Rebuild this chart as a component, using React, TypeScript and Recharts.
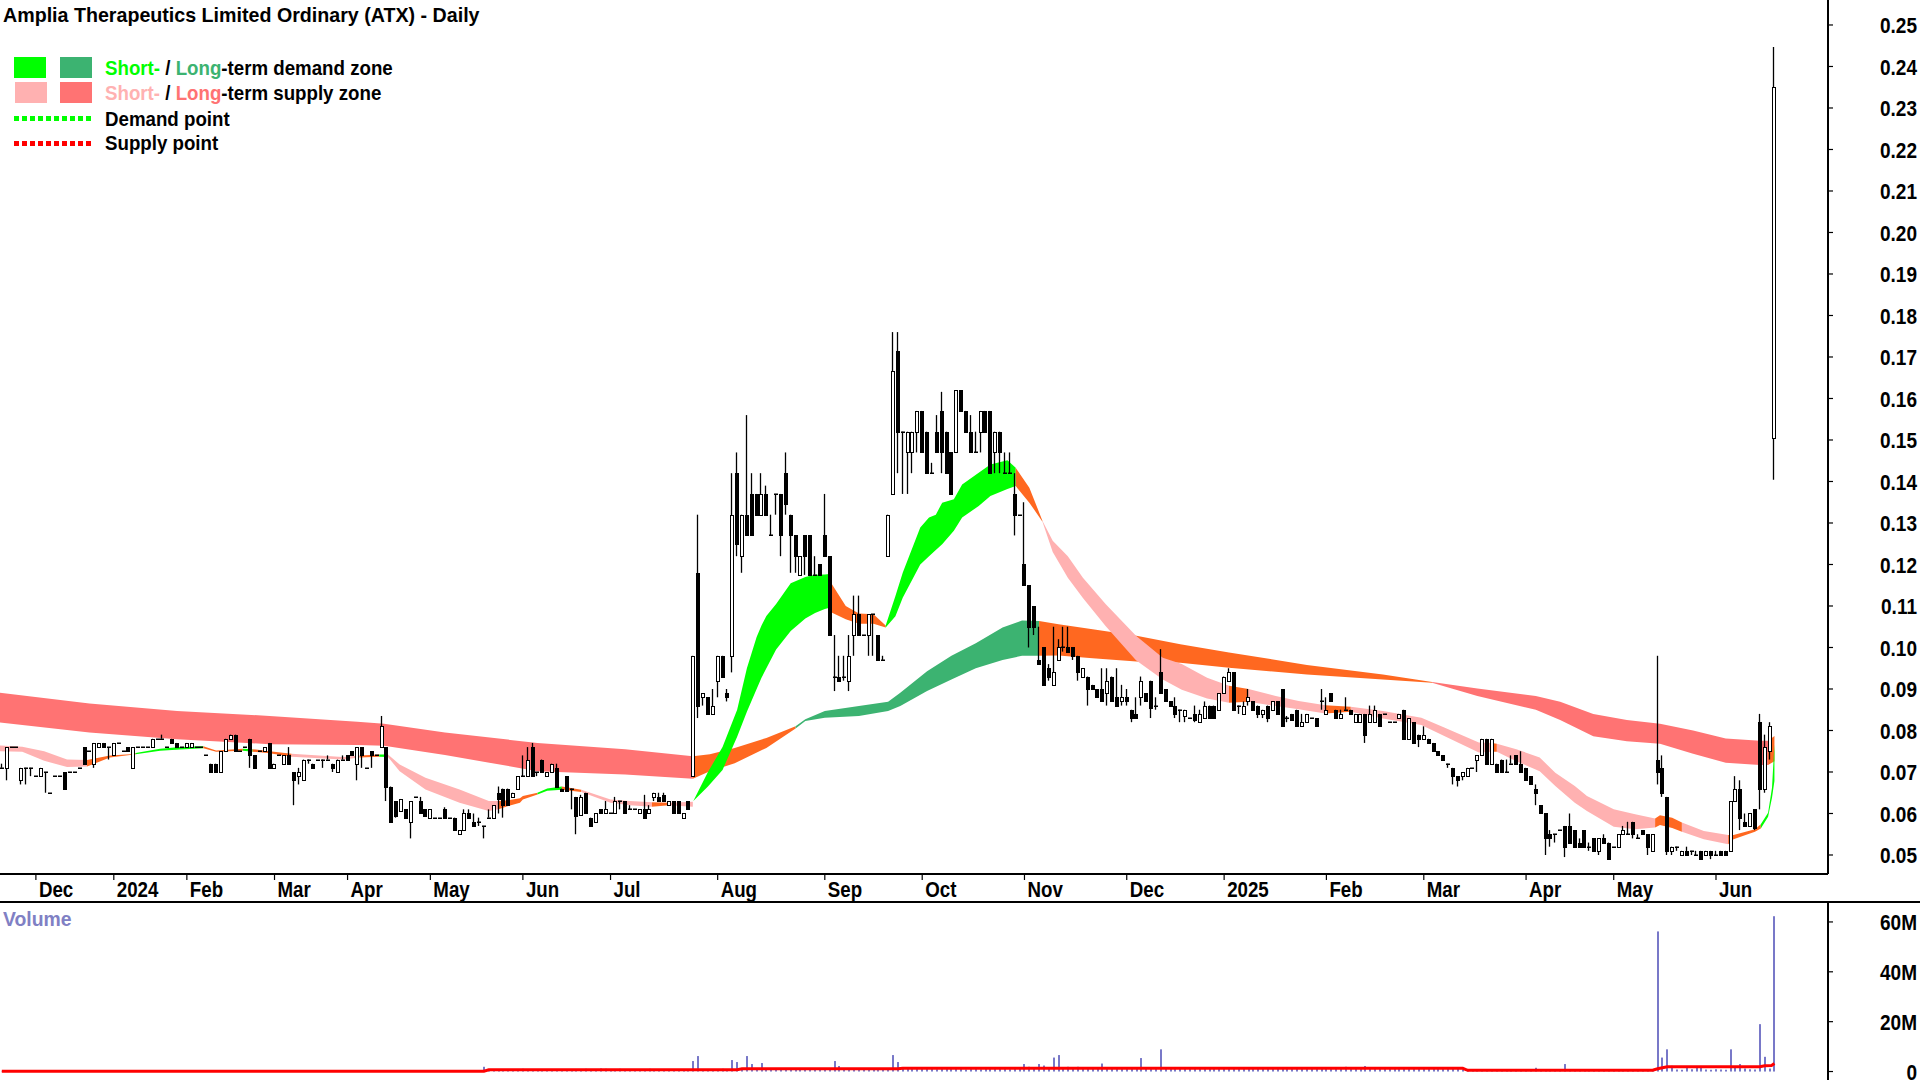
import { Area, Bar, ComposedChart, Line, XAxis, YAxis } from "recharts";

// all prices are in tenths of a cent
const opens = [
  71,71,76,76,68,71,71,69,69,70, 65,69,69,70,70,70,71,76,75,72,
  76,77,76,74,77,75,76,71,76,76, 76,76,78,78,76,78,77,76,76,76,
  76,76,74,72,72,70,75,78,79,75, 76,78,74,75,75,77,71,74,72,74,
  70,69,68,73,72,73,73,73,72,70, 73,74,75,72,76,71,75,74,76,76,
  66.5,63,60.5,61,58,64,63,61,59,59, 59,61,59,59,55,56,60,58,58,57,
  59,59,65,66,66,64,66,69,69,76, 70,73,69,70,71,66,69,66,64,59.7,
  65,59,58,61,60,60,60,63,63,61, 61,60,61,60,64,64,64.5,62,63,63,
  59,63,69,118,88,88,84,92,98,89, 98,142,122,132,137,137,132,137,127,137,
  137,142,132,127,117.5,127,127,117.5,120,127, 122,93,93,93,92,103,108,103,103,108,
  103,97,122,137,171.5,152,147,147,152,157, 152,142,152,157,152,147,147,162,157,152,
  147,152,157,157,147,152,142,142,137,132, 120,115,110,97,100,95,91,97,100,100,
  100,98,93,93,91,90,90,89,93,88, 87,88,85,84,88,89,92,86,94,90,
  87,86,85,83.5,83,84,82,83,86,86, 85,89,92,94,86,84,87,87,86,84,
  86,85,87,90,83,84,85,81,82,83, 83,87,84,89,85,83,85,85,82,82,
  84,82,82,84,84,82,82,83,85,78, 82,79,78,78,77,75,74,72,71,69,
  69,69,71,73,74,78,72,72,73,70, 72,74,72,71,69,66,62,60,55,55,
  56,57,57,56,53,56,52,54,51,54, 53,52,52,55,55,58,54,56,55,51,
  73,71,64,51,52,50,51,51,50,51, 50,51,50,51,51,51,63,66,58,57,
  61,82,66,75,150.4,
];
const highs = [
  72,76,76,76,71,71,71,69,71,70, 65,69,69,70,70,70,71,76,75,77,
  77,77,76,77,77,75,76,76,76,76, 76,78,78,79,76,78,77,76,77,77,
  76,76,74,72,72,75,78,79,79,75, 76,78,74,75,76,77,72,74,74,76,
  70,71,73,73,72,73,73,74,72,73, 74,74,75,76,76,71,75,74,83.5,76,
  66.5,63,63.5,61,63,64,64,61,61,59, 59,61.5,59,59,56,61,61,60,59,57,
  61,62,66.5,66,66,65,69,74,76,77, 70,73,70,72,72,66,69,66,64,64.5,
  65,59,60,61,63,60,64,63,63,62, 61,61,64.5,62,65,65,65,63,63,63,
  60,63,98,132,89,88,90,98,98,90, 142,147,132,156,142,137,142,139,132,137,
  137,147,132,127,122,127,127,122,120,137, 122,103,98,98,103,112.5,112.5,103,108,108,
  103,98,132,176,176,152,152,152,157,157, 152,144.5,156,161.6,152,147,162,162,157,156,
  152,157,157,157,152,152,147,147,142,132, 135,115,110,105,100,96,105,102,105,105,
  100,98,95,93,91,90,95,95,93,95, 91,90,85,88,93,89,92,88,99.6,90,
  87,88,85,85,83,86,85,87,86,86, 89,93,95,94,86,87,90,87,86,85,
  86,87,87,90,83.5,84,85,84,84,83, 83,90,88,89,85,85,88,85,84,84,
  84,86,86,84,84,82,82,84,85,83, 82,79,81,78,77,75,74,72,71,69,
  70,71,71,74,78,78,78,72,73,73, 74,74,75,71,69,67,62,60,56,55,
  56,57,60,56,54,56,53,54,54,55, 53,52,55,57,58,58,55,56,55,55,
  98,74,64,52,52,51,52,51,51,51, 51,51,51,51,51,63,69,68,60,60,
  61,84,79,82,244.7,
];
const lows = [
  71,68,76,76,67,67,69,69,69,65, 65,69,69,66,70,70,71,72,75,71,
  76,76,73,74,77,75,75,71,76,76, 76,76,78,78,76,77,76,76,76,76,
  76,76,74,70,70,70,75,78,75,75, 76,71,71,75,75,71,71,74,72,72,
  62,67,68,72,71,73,71,73,70,70, 73,73,74,68,71,71,71,74,76,63,
  58,59,60.5,59,54,64,60,59.5,59,59, 59,59,59,56,55,56,59,57,57,54,
  59,59,60,59,62,64,66,69,69,69, 69,70,69,70,66.5,65.5,65.5,61,55,59.7,
  60,57,58,60,60,60,60,61,60,61, 61,60,59,60,63,63,63,62,60,60,
  59,61,69,83,86,84,84,88,93,87, 94,122,118,127,127,132,132,132,127,132,
  122,132,118,118,117.5,117.5,117.5,117.5,117.5,122, 103,89.5,92,92,89.5,98,103,103,98,98,
  97,97,122,137,142,137,137,142,147,147, 142,142,147,142,142,137,147,157,152,147,
  147,147,152,142,142,142,142,142,127,132, 115,100,103,96,91,92,91,97,99,99,
  97,92,93,86,90,88,87,86,87,86, 86,86,82,83,86,87,83,85,89,87,
  86,83,82,82,83,82,82,83,83,83, 85,89,92,85,84,84,86,85,83,83,
  82,85,84,81,82,82.5,81,81,82,83, 81,85,84,87,83,83,85,84,82,82,
  77,82,82,81,84,82,82,83,78,78, 77,76,78,77,75,74,73,71,67,66.5,
  68,69,71,70,74,72,72,70,70,70, 72,72,70,68,67,62,60,50,52,53,
  56,49.5,53,52,52,52,51,51,50,53, 49,52,52,55,55,54,54,55,50,51,
  67,64,50,50,51,50,50,50,50,49, 50,49,50,50,50,51,63,56,57,57,
  56,61,65,73,140.4,
];
const closes = [
  71,76,76,76,71,71,71,69,71,70, 65,69,69,66,70,70,71,72,75,77,
  77,76,76,77,77,75,75,76,76,76, 76,78,78,78,76,77,76,76,77,77,
  76,76,74,70,70,75,78,79,75,75, 76,74,71,75,76,71,72,74,74,72,
  68,70,73,73,71,73,73,73,71,73, 73,73,74,76,74,71,74,74,81,66.5,
  58,59.5,63.5,59,63,64,60,59.5,61,59, 59,59,59,56,56,60,59,57,58,57,
  59,62,63.5,62,62,65,69,69,73,69, 70,70,70,72,66.5,65.5,65.5,66,59.5,64,
  60,57,60,60,61,60,63,63,60,61, 61,61,59,61,65,63,63,63,60,60,
  60,61,98,86,89,84,86,98,93,88, 132,125,132,127,127,132,137,132,127,137,
  127,134.5,127,122,122,122,117.5,117.5,117.5,122, 103,93,92,93,98,108,103,103,108,108,
  97,97,132,166.6,152,152,152,152,157,147, 142,142,147,147,142,137,162,157,152,147,
  147,157,152,142,152,147,142,142,132,132, 115,105,105,96,91,93,94,100,100,99,
  98,94,95,90,90,88,87,92,87,86, 88,87,83,83,92,87,85.5,86,89,87,
  86,84,85,85,83,82.5,84,86,83,83, 89,93,94,85,86,86,88,85,84,85,
  83,87,84,81,83,82.5,81,82,84,83, 81,87,85,87,83,84,85,84,84,84,
  79,84,85,81,84,82,82,84,78,83, 77,78,79,77,75,74,73,72,69,68,
  70,71,71,74,78,72,78,70,70,70, 72,72,70,68,67,65,60,54,54,55,
  56,52,53,52,52,52,52,51,54,53, 49,52,55,56,55,55,54,55,52,55,
  70,65,51,52,52,51,50,51,50,49, 51,50,50,50,50,63,66,59,57,60,
  56.5,66,76,81,235,
];
// millions of shares
const volumes = [
  .1,.1,.1,.1,.1,.1,.3,.1,.1,.1, .1,.1,.1,.1,.1,.1,.1,.1,.1,.1,
  .1,.1,.1,.1,.1,.1,.1,.1,.1,.1, .1,.3,.1,.1,.1,.1,.1,.1,.1,.1,
  .1,.1,.1,.1,.1,.1,.1,.1,.1,.1, .1,.3,.1,.1,.1,.1,.1,.1,.1,.3,
  .1,.1,.1,.1,.1,.1,.1,.1,.1,.1, .3,.1,.1,.3,.1,.1,.1,.1,.4,.5,
  .4,.1,.1,.3,.1,.3,.1,.1,.3,.1, .1,.3,.1,.3,.1,.6,.3,.5,.6,1.9,
  1,.8,1,1,.9,1,.9,1.1,.8,1, .9,.8,.9,.8,1,.8,.9,1,1,.8,
  1.1,1,.9,1.2,1.1,.9,1,1.1,1,.8, .8,1,.9,1.1,1,.9,.8,1,1,.9,
  .8,1,4.2,6.2,1,.9,1,1,1.1,.9, 4.6,3.8,1.2,6.2,3,1.1,3.4,1.2,1.4,1.1,
  1.3,1,1.4,1.2,1,1.1,1.3,1.2,1.3,1, 1.1,4.2,2.2,1.3,1.1,1,1.2,.9,1.1,1.2,
  1,.9,1.1,6.6,3.8,1.8,1.4,1.2,1,1.2, 1.1,1.2,.9,1,1.3,1.1,1,1.1,.8,1,
  1.2,.9,1,1.3,1.1,1,1.2,.9,1,1.4, 3,1.9,1.1,3,2.4,1.3,5.6,6.6,1.3,1.9,
  1.2,1.9,1.1,1.5,1,1,3.2,1.3,1.2,1.3, 1.1,1.2,1,1.5,5.4,1.1,1,1.2,8.9,1.2,
  1,1.1,1.3,1,1.2,1.1,1,1.3,1.1,1, 1.2,1,1.1,1.5,1.1,1,1.3,1,1.1,1.2,
  1,1.3,1.1,1,1.2,1.1,1,1.2,1,1.1, 1.3,1,1.2,1,1.1,1.3,1.9,1.3,1.1,1,
  2.2,1.2,1.1,1,1.2,1.1,1,1.1,1.5,1.2, 1.1,1,1.3,1.2,1,1.2,1.1,1.3,1,1,
  .7,.6,.3,.4,.5,.6,.5,.8,.7,.6, .5,.4,.6,.3,.7,1.5,.8,.6,.7,.5,
  .5,3,.7,.6,.5,.7,.3,.5,.6,.7, .5,.4,.6,.3,.5,.7,.6,.5,.7,.8,
  56.2,5.6,8.9,2.3,.8,.7,1.9,.9,1.9,1.9, .8,.7,.9,.8,.7,8.9,1.9,3,1.2,.9,
  .8,19,5.9,1.2,62.3,
];

// volume moving average, stepped
const avgIndex = [0, 99, 100, 151, 152, 184, 185, 300, 301, 339, 340, 342, 361, 362, 363.4, 364];
const avgValue = [.1, .1, .7, .7, 1.1, 1.1, 1.3, 1.3, .5, .5, 1.1, 1.9, 1.9, 2.3, 2.4, 3.2];

const longIndex = [-0.37, 18, 36, 55, 73, 78.5, 91, 110, 128, 141.9, 145.4, 150.5, 157, 163, 165, 169, 176, 182, 184.5, 190, 195, 200, 205.5, 209.5, 213, 217, 224, 233, 242, 252, 268, 283.6, 293.7, 303, 315, 320, 326.8, 333.7, 340.5, 347.3, 354, 361, 362.7, 364];
const longUpper = [89.1, 86.5, 84.7, 83.5, 82.1, 81.6, 79.5, 77, 75.5, 73.8, 74.3, 75.8, 78.2, 81, 82.7, 84.7, 85.9, 86.9, 89.1, 94.3, 98, 101, 104.8, 106.5, 106.4, 105.6, 104.4, 102.8, 100.8, 98.8, 95.8, 93.5, 91.7, 90.1, 88.3, 86.9, 84, 82.5, 81.6, 80, 78.1, 77.5, 77.5, 78.7];
const longLower = [81.9, 79.5, 77.9, 76.7, 76.5, 76.3, 74.1, 70.2, 69.4, 68.4, 70.2, 72.1, 75.8, 80.5, 82.3, 83.1, 83.5, 84.7, 85.9, 89.5, 92.3, 95, 97, 98, 98, 98.1, 97.4, 96.6, 96.3, 95.1, 93.5, 92.3, 91.5, 88.3, 85, 82.5, 78.6, 77.4, 76.8, 74.4, 72.2, 71.7, 71.7, 72.6];
// [from, to, zone]
const longZones: [number, number, string][] = [
  [-0.37, 141.9, "supply"], [141.9, 163, "turn"], [163, 213, "demand"],
  [213, 293.7, "turn"], [293.7, 362.7, "supply"], [362.7, 364, "turn"],
];

const shortIndex = [-0.37, 4.2, 8.7, 13.4, 17.5, 22.2, 26.3, 27.5, 32.5, 36.6, 41.4, 44, 49.5, 51.5, 55, 59.5, 70, 73.5, 77.5, 79.3, 81.7, 87, 94, 100, 102, 104, 106.4, 107, 110, 112, 115, 119, 125, 129, 133.5, 137, 141.9, 142, 145, 148, 151, 153, 155, 156, 157, 159, 162, 165, 167, 169, 170, 170.5, 173.3, 176, 179, 181.5, 183.5, 185, 188.6, 190.4, 191.8, 193.1, 195.5, 197.2, 200.6, 203, 206.5, 208.2, 211, 213.7, 215.8, 218.9, 222, 226.7, 232.9, 238.4, 242.3, 247.5, 252, 256, 261.6, 266.3, 271.8, 277, 283.6, 291.5, 296.2, 303.3, 306, 307, 311, 315.8, 319, 323, 325.5, 331, 335.4, 339.5, 340.5, 343, 345, 349.5, 354.5, 355.6, 360, 361.2, 362.7, 363.5, 364];
const shortUpper = [76.4, 76.1, 75, 73, 72.9, 74, 74.3, 74.6, 75.6, 76, 76.2, 75.2, 75.6, 75.5, 75, 74.4, 73.6, 74, 74.2, 74.2, 71.8, 68.6, 65.8, 63, 63, 63.2, 63.7, 64.2, 65, 66, 66.5, 65.7, 63.4, 63, 62.7, 62.6, 62.8, 63, 70, 76, 85, 95, 102.5, 105.3, 107.6, 110.5, 115.5, 117, 117.5, 117.6, 117.7, 115.2, 110, 108.2, 108, 105.3, 112.4, 118, 128.9, 131.3, 132, 134.9, 135.7, 139.3, 142.1, 144.1, 145.1, 143.3, 138.5, 130.5, 125.7, 122, 116.8, 110.4, 102.8, 97.5, 96, 92.7, 90.8, 90, 88.3, 87.1, 86.1, 85.7, 84.7, 83.1, 80.7, 77.1, 77, 76.8, 75.5, 73.5, 69.8, 66.6, 64.2, 61, 59.8, 58.8, 59.6, 59, 57.8, 55.8, 54.8, 54.8, 56.2, 57.4, 60.2, 66.2, 76.7];
const shortLower = [75, 74.9, 72.7, 71.2, 71.3, 73.5, 74.1, 74.3, 75.1, 75.4, 75.7, 74.9, 75.1, 74.9, 74.5, 73.7, 73, 73.5, 73.7, 73.6, 70.2, 65.8, 62.6, 60.6, 61, 61.8, 62.6, 63.4, 64.6, 65.5, 65.7, 65.2, 62.6, 62, 61.6, 62, 61.6, 63, 66.5, 70.5, 78.5, 84.5, 90, 92.7, 95, 99.5, 104, 107, 108.3, 109.3, 109.6, 108.4, 106.8, 105.7, 105.7, 104.8, 107.5, 112, 120, 122, 123.5, 124.9, 128.1, 131.3, 134.1, 136.5, 138.2, 138.9, 134.9, 130.3, 123, 116.8, 111.9, 105.1, 96.9, 92.3, 89.8, 87.7, 86.7, 86.9, 85.9, 85.1, 84.1, 84.5, 82.9, 81.3, 78.7, 74.7, 74.9, 74.9, 72.6, 70.2, 66.6, 62.6, 60.6, 56.8, 56.2, 56.6, 57.2, 56.5, 55.6, 53.8, 52.6, 53.8, 55.6, 56.4, 59.2, 63.8, 67.8];
const shortZones: [number, number, string][] = [
  [-0.37, 17.5, "supply"], [17.5, 27.5, "turn"], [27.5, 41.4, "demand"], [41.4, 49.5, "turn"],
  [49.5, 51.5, "demand"], [51.5, 59.5, "turn"], [59.5, 73.5, "supply"], [73.5, 77.5, "turn"],
  [77.5, 79.3, "demand"], [79.3, 102, "supply"], [102, 110, "turn"], [110, 115, "demand"],
  [115, 119, "turn"], [119, 133.5, "supply"], [133.5, 137, "turn"], [137, 141.9, "supply"],
  [142, 170, "demand"], [170, 181.5, "turn"], [181.5, 208.2, "demand"], [208.2, 213.7, "turn"],
  [213.7, 252, "supply"], [252, 256, "turn"], [256, 271.8, "supply"], [271.8, 277, "turn"],
  [277, 306, "supply"], [306, 307, "turn"], [307, 339.5, "supply"], [339.5, 345, "turn"],
  [345, 354.5, "supply"], [354.5, 361.2, "turn"], [361.2, 364, "demand"],
];

const monthIndex = [7, 23, 38, 56, 71, 88, 107, 125, 147, 169, 189, 210, 231, 251, 272, 292, 313, 331, 352];
const monthLabels = ["Dec", "2024", "Feb", "Mar", "Apr", "May", "Jun", "Jul", "Aug", "Sep", "Oct", "Nov", "Dec", "2025", "Feb", "Mar", "Apr", "May", "Jun"];
const priceTicks = [0.05, 0.06, 0.07, 0.08, 0.09, 0.1, 0.11, 0.12, 0.13, 0.14, 0.15, 0.16, 0.17, 0.18, 0.19, 0.2, 0.21, 0.22, 0.23, 0.24, 0.25];
const volumeTicks = [0, 20, 40, 60];

const FONT = '"Liberation Sans", Arial, sans-serif';
const LONG_COLORS: Record<string, string> = { supply: "#ff7373", turn: "#ff6820", demand: "#3cb371" };
const SHORT_COLORS: Record<string, string> = { supply: "#ffb1b1", turn: "#ff6820", demand: "#00ff00" };
const INDEX_DOMAIN: [number, number] = [-0.37, 375];

const candles = opens.map((open, i) => ({
  i,
  open: open / 1000,
  close: closes[i] / 1000,
  high: highs[i] / 1000,
  low: lows[i] / 1000,
  range: [lows[i] / 1000, highs[i] / 1000],
  volume: volumes[i],
}));

const avgRows = avgIndex.map((i, k) => ({ i, avg: avgValue[k] }));

function bandRows(index: number[], upper: number[], lower: number[], from: number, to: number) {
  const rows = [];
  for (let k = 0; k < index.length; k++) {
    if (index[k] >= from && index[k] <= to) {
      rows.push({ i: index[k], band: [lower[k] / 1000, upper[k] / 1000] });
    }
  }
  return rows;
}

function Candle(props: any) {
  const { x, y, width, height, payload } = props;
  const cx = Math.round(x + width / 2);
  const { open, close, high, low } = payload;
  const span = high - low;
  const toY = (p: number) => Math.round(span > 0 ? y + (height * (high - p)) / span : y);
  const top = toY(Math.max(open, close));
  const bottom = toY(Math.min(open, close));
  const up = close > open;
  return (
    <g>
      <line x1={cx - 0.5} x2={cx - 0.5} y1={y} y2={y + height} stroke="#000" strokeWidth={1.3} />
      {open === close ? (
        <rect x={cx - 2} y={top - 0.5} width={4} height={1.5} fill="#000" />
      ) : up ? (
        <rect x={cx - 1.5} y={top + 0.5} width={3} height={bottom - top} fill="#fff" stroke="#000" strokeWidth={1} />
      ) : (
        <rect x={cx - 2} y={top} width={4} height={bottom - top + 1} fill="#000" />
      )}
    </g>
  );
}

function VolumeBar(props: any) {
  const { x, y, width, height } = props;
  return <rect x={Math.round(x)} y={y} width={2} height={Math.max(height, 0)} fill="#7878c8" />;
}

function MonthTick({ x, payload }: any) {
  return (
    <g>
      <line x1={x} x2={x} y1={874} y2={880} stroke="#000" strokeWidth={1.2} />
      <text transform={`translate(${x + 3},897) scale(0.87,1)`} fontFamily={FONT} fontWeight={700} fontSize={21.5} fill="#000">
        {monthLabels[monthIndex.indexOf(payload.value)]}
      </text>
    </g>
  );
}

function RightTick({ y, text }: { y: number; text: string }) {
  return (
    <g>
      <line x1={1828} x2={1833} y1={y} y2={y} stroke="#000" strokeWidth={1.2} />
      <text transform={`translate(1917,${y + 8.5}) scale(0.865,1)`} textAnchor="end" fontFamily={FONT} fontWeight={700} fontSize={22} fill="#000">
        {text}
      </text>
    </g>
  );
}

function PriceTick({ y, payload }: any) {
  return <RightTick y={y} text={payload.value.toFixed(2)} />;
}

function VolumeTick({ y, payload }: any) {
  return <RightTick y={y} text={payload.value === 0 ? "0" : payload.value + "M"} />;
}

const swatch = (left: number, top: number, background: string) => (
  <div style={{ position: "absolute", left, top, width: 32, height: 21, background }} />
);
const dotted = (top: number, color: string) => (
  <div style={{ position: "absolute", left: 14, top, width: 79, height: 5, backgroundImage: `repeating-linear-gradient(to right, ${color} 0 5px, transparent 5px 8px)` }} />
);
const label = (left: number, top: number, scale: number, color: string, children: React.ReactNode) => (
  <div style={{ position: "absolute", left, top, color, fontSize: 20.5, lineHeight: "24px", whiteSpace: "nowrap", transform: `scaleX(${scale})`, transformOrigin: "left" }}>
    {children}
  </div>
);

export default function App() {
  return (
    <div style={{ position: "fixed", left: 0, top: 0, width: 1920, height: 1080, background: "#fff", fontFamily: FONT, fontWeight: 700, overflow: "hidden" }}>
      <ComposedChart width={1920} height={902} data={candles} margin={{ top: 0, right: 0, bottom: 0, left: 0 }} style={{ position: "absolute", left: 0, top: 0 }}>
        <XAxis
          dataKey="i"
          type="number"
          domain={INDEX_DOMAIN}
          allowDataOverflow
          ticks={monthIndex}
          interval={0}
          height={28}
          tickLine={false}
          axisLine={{ stroke: "#000", strokeWidth: 2 }}
          tick={MonthTick}
        />
        <YAxis
          orientation="right"
          width={92}
          domain={[0.04542, 0.25602]}
          allowDataOverflow
          ticks={priceTicks}
          interval={0}
          tickLine={false}
          axisLine={{ stroke: "#000", strokeWidth: 2 }}
          tick={PriceTick}
        />
        {longZones.map(([from, to, zone]) => (
          <Area
            key={"long" + from}
            data={bandRows(longIndex, longUpper, longLower, from, to)}
            dataKey="band"
            type="linear"
            stroke="none"
            fill={LONG_COLORS[zone]}
            fillOpacity={1}
            dot={false}
            activeDot={false}
            isAnimationActive={false}
          />
        ))}
        {shortZones.map(([from, to, zone]) => (
          <Area
            key={"short" + from}
            data={bandRows(shortIndex, shortUpper, shortLower, from, to)}
            dataKey="band"
            type="linear"
            stroke="none"
            fill={SHORT_COLORS[zone]}
            fillOpacity={1}
            dot={false}
            activeDot={false}
            isAnimationActive={false}
          />
        ))}
        <Bar dataKey="range" barSize={4} shape={Candle} isAnimationActive={false} />
      </ComposedChart>

      <ComposedChart width={1920} height={178} data={candles} margin={{ top: 0, right: 0, bottom: 0, left: 0 }} style={{ position: "absolute", left: 0, top: 902 }}>
        <XAxis dataKey="i" type="number" domain={INDEX_DOMAIN} allowDataOverflow hide />
        <YAxis
          orientation="right"
          width={92}
          domain={[-3.4, 68]}
          allowDataOverflow
          ticks={volumeTicks}
          interval={0}
          tickLine={false}
          axisLine={{ stroke: "#000", strokeWidth: 2 }}
          tick={VolumeTick}
        />
        <Bar dataKey="volume" barSize={2} shape={VolumeBar} isAnimationActive={false} />
        <Line data={avgRows} dataKey="avg" type="linear" stroke="#ff0000" strokeWidth={3} dot={false} activeDot={false} isAnimationActive={false} />
      </ComposedChart>

      <div style={{ position: "absolute", left: 0, top: 901, width: 1920, height: 2, background: "#000" }} />
      {label(3, 3, 0.958, "#000", "Amplia Therapeutics Limited Ordinary (ATX) - Daily")}
      {swatch(14, 57, "#00ff00")}
      {swatch(60, 57, "#3cb371")}
      {swatch(15, 82, "#ffb1b1")}
      {swatch(60, 82, "#ff7373")}
      {dotted(116, "#00ff00")}
      {dotted(141, "#ff0000")}
      {label(105, 56, 0.912, "#000", <><span style={{ color: "#00ff00" }}>Short-</span> / <span style={{ color: "#3cb371" }}>Long</span>-term demand zone</>)}
      {label(105, 81, 0.912, "#000", <><span style={{ color: "#ffb1b1" }}>Short-</span> / <span style={{ color: "#ff7373" }}>Long</span>-term supply zone</>)}
      {label(105, 107, 0.912, "#000", "Demand point")}
      {label(105, 131, 0.912, "#000", "Supply point")}
      {label(3, 907, 0.945, "#8080c4", "Volume")}
    </div>
  );
}
